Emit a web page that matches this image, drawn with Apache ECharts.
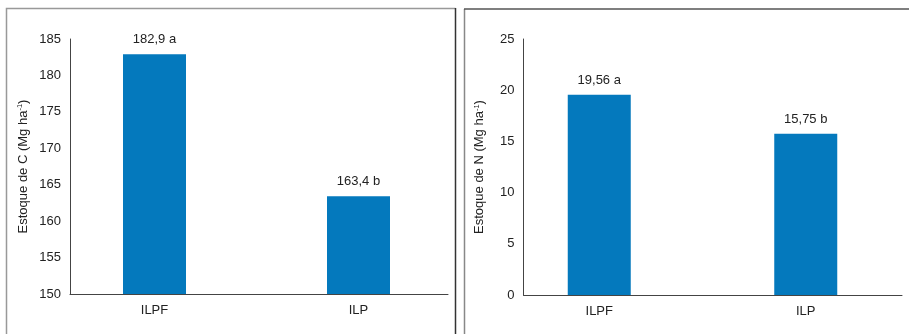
<!DOCTYPE html>
<html>
<head>
<meta charset="utf-8">
<style>
  html, body { margin: 0; padding: 0; background: #fff; }
  #chart { width: 909px; height: 334px; }
</style>
<script src="https://cdn.jsdelivr.net/npm/echarts@6/dist/echarts.min.js"></script>
</head>
<body>
<div id="chart"></div>
<script>
// Treatments
const categories = ['ILPF', 'ILP'];

// Carbon stock (Mg ha-1) and mean-separation letters
const carbonValues = [182.9, 163.4];
const carbonLetters = ['a', 'b'];

// Nitrogen stock (Mg ha-1) and mean-separation letters
const nitrogenValues = [19.56, 15.75];
const nitrogenLetters = ['a', 'b'];

// Axis ranges
const carbonAxis = { min: 150, max: 185, interval: 5 };
const nitrogenAxis = { min: 0, max: 25, interval: 5 };

const font = 'Liberation Sans, Arial, Helvetica, sans-serif';
const textColor = '#222';
const axisColor = '#444';
const barColor = '#0479bd';
const fontSize = 13;

function fmt(v, decimals) {
  return v.toFixed(decimals).replace('.', ',');
}

function barLabels(values, letters, decimals) {
  return values.map((v, i) => ({
    value: v,
    label: { formatter: fmt(v, decimals) + ' ' + letters[i] }
  }));
}

const nameRich = {
  n: { fontSize: fontSize, color: textColor, fontFamily: font },
  s: { fontSize: 7.5, color: textColor, fontFamily: font, verticalAlign: 'top', padding: [0, 0, 6, 0] }
};

function frameAxis(gridIndex, range, name, nameGap) {
  return {
    type: 'value', gridIndex: gridIndex,
    min: range.min, max: range.max, interval: range.interval,
    axisLine: { show: true, lineStyle: { color: axisColor, width: 1 } },
    axisTick: { show: false },
    splitLine: { show: false },
    axisLabel: { color: textColor, fontSize: fontSize, fontFamily: font, margin: 9 },
    name: name,
    nameLocation: 'middle',
    nameGap: nameGap,
    nameRotate: 90,
    nameTextStyle: { rich: nameRich }
  };
}

function hiddenValueAxis(gridIndex, range) {
  return {
    type: 'value', gridIndex: gridIndex,
    min: range.min, max: range.max, interval: range.interval,
    show: false
  };
}

function categoryLabels() {
  return { color: textColor, fontSize: fontSize, fontFamily: font, margin: 10 };
}

function barSeries(xi, yi, data) {
  return {
    type: 'bar', xAxisIndex: xi, yAxisIndex: yi,
    data: data,
    barWidth: 63,
    itemStyle: { color: barColor },
    label: { show: true, position: 'top', distance: 8, color: textColor, fontSize: fontSize, fontFamily: font }
  };
}

const option = {
  animation: false,
  backgroundColor: '#fff',
  textStyle: { fontFamily: font },
  grid: [
    // carbon panel: axis frame and bar band
    { left: 70, top: 39, width: 378, height: 255 },
    { left: 52.5, top: 39, width: 408, height: 255 },
    // nitrogen panel: axis frame and bar band
    { left: 523.5, top: 39, width: 378.5, height: 256 },
    { left: 496, top: 39, width: 418, height: 256 }
  ],
  xAxis: [
    { type: 'category', gridIndex: 0, data: categories,
      axisLine: { show: true, lineStyle: { color: axisColor, width: 1 } },
      axisTick: { show: false }, axisLabel: { show: false } },
    { type: 'category', gridIndex: 1, data: categories,
      axisLine: { show: false }, axisTick: { show: false },
      axisLabel: categoryLabels() },
    { type: 'category', gridIndex: 2, data: categories,
      axisLine: { show: true, lineStyle: { color: axisColor, width: 1 } },
      axisTick: { show: false }, axisLabel: { show: false } },
    { type: 'category', gridIndex: 3, data: categories,
      axisLine: { show: false }, axisTick: { show: false },
      axisLabel: categoryLabels() }
  ],
  yAxis: [
    frameAxis(0, carbonAxis, '{n|Estoque de C (Mg ha}{s|-1}{n|)}', 40),
    hiddenValueAxis(1, carbonAxis),
    frameAxis(2, nitrogenAxis, '{n|Estoque de N (Mg ha}{s|-1}{n|)}', 37),
    hiddenValueAxis(3, nitrogenAxis)
  ],
  series: [
    barSeries(1, 1, barLabels(carbonValues, carbonLetters, 1)),
    barSeries(3, 3, barLabels(nitrogenValues, nitrogenLetters, 2))
  ],
  graphic: [
    // panel frames
    { type: 'polyline', silent: true,
      shape: { points: [[6.5, 340], [6.5, 8.5], [455.5, 8.5]] },
      style: { stroke: '#999', lineWidth: 1.5, fill: null } },
    { type: 'line', silent: true,
      shape: { x1: 455.5, y1: 8, x2: 455.5, y2: 340 },
      style: { stroke: '#333', lineWidth: 1.5 } },
    { type: 'line', silent: true,
      shape: { x1: 464.5, y1: 9, x2: 464.5, y2: 340 },
      style: { stroke: '#888', lineWidth: 1.5 } },
    { type: 'line', silent: true,
      shape: { x1: 464, y1: 9, x2: 912, y2: 9 },
      style: { stroke: '#555', lineWidth: 1.5 } }
  ]
};

const chart = echarts.init(document.getElementById('chart'), null, { renderer: 'canvas' });
chart.setOption(option);
</script>
</body>
</html>
